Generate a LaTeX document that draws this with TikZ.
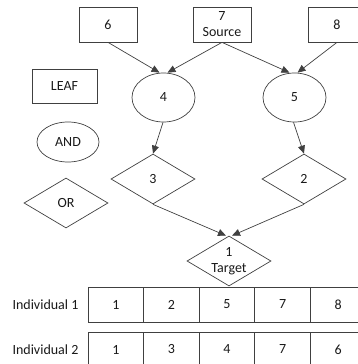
\documentclass[tikz,border=0pt]{standalone}
\usepackage{fontspec}
\setmainfont{Carlito}
\usetikzlibrary{shapes.geometric,arrows.meta}

\begin{document}
\begin{tikzpicture}[x=1pt,y=-1pt,line width=0.7pt,
	every node/.style={font=\fontsize{14}{16}\selectfont,text=black!90},
	leafbox/.style={draw=black!75,rectangle,minimum width=58pt,minimum height=35pt,inner sep=0pt,align=center},
	andnode/.style={draw=black!75,ellipse,minimum width=63pt,minimum height=49pt,inner sep=0pt},
	ornode/.style={draw=black!75,diamond,minimum width=84pt,minimum height=50pt,inner sep=0pt},
	link/.style={draw=black!75,-{Triangle[length=8pt,width=7pt]}},
	cell/.style={draw=black!75,minimum width=55.6pt,minimum height=35pt,inner sep=0pt}]
	
	\useasboundingbox (0,0) rectangle (358,364);
	\clip (0,0) rectangle (358,364);
	
	% leaves at the top
	\node[leafbox] (n6) at (108,24.5) {6};
	\node[leafbox] (n7) at (222,24.5) {7\\Source};
	\node[leafbox] (n8) at (337,24.5) {8};
	
	% AND nodes
	\node[andnode] (n4) at (163.5,97.5) {4};
	\node[andnode] (n5) at (294.5,97.5) {5};
	
	% OR nodes
	\node[ornode] (n3) at (153,179) {3};
	\node[ornode] (n2) at (304,179) {2};
	\node[ornode,label={[align=center]center:1\\Target}] (n1) at (229,261) {};
	
	% legend
	\node[leafbox,minimum width=65pt,minimum height=34pt] (leaf) at (64.5,86) {LEAF};
	\node[andnode,minimum width=62pt,minimum height=40pt] (and) at (68,142) {AND};
	\node[ornode] (or) at (66,203) {OR};
	
	% edges
	\draw[link] (n6.south) -- ([xshift=-4pt]n4.north);
	\draw[link] (n7.south) -- ([xshift=4pt]n4.north);
	\draw[link] (n7.south) -- ([xshift=-5pt]n5.north);
	\draw[link] (n8.south) -- ([xshift=3pt]n5.north);
	\draw[link] ([xshift=-0.5pt]n4.south) -- (n3.north);
	\draw[link] ([xshift=-1pt]n5.south) -- (n2.north);
	\draw[link] (n3.south) -- ([xshift=-3pt]n1.north);
	\draw[link] (n2.south) -- ([xshift=3pt]n1.north);
	
	% individuals
	\node (ind1) at (45.5,304.5) {Individual 1};
	\node (ind2) at (45.5,349.5) {Individual 2};
	\foreach \v [count=\i] in {1,2,5,7,8}
		\node[cell] (a\i) at (88+55.6*\i-27.8,304.5) {\v};
	\foreach \v [count=\i] in {1,3,4,7,6}
		\node[cell] (b\i) at (88+55.6*\i-27.8,349.5) {\v};
	
\end{tikzpicture}
\end{document}
